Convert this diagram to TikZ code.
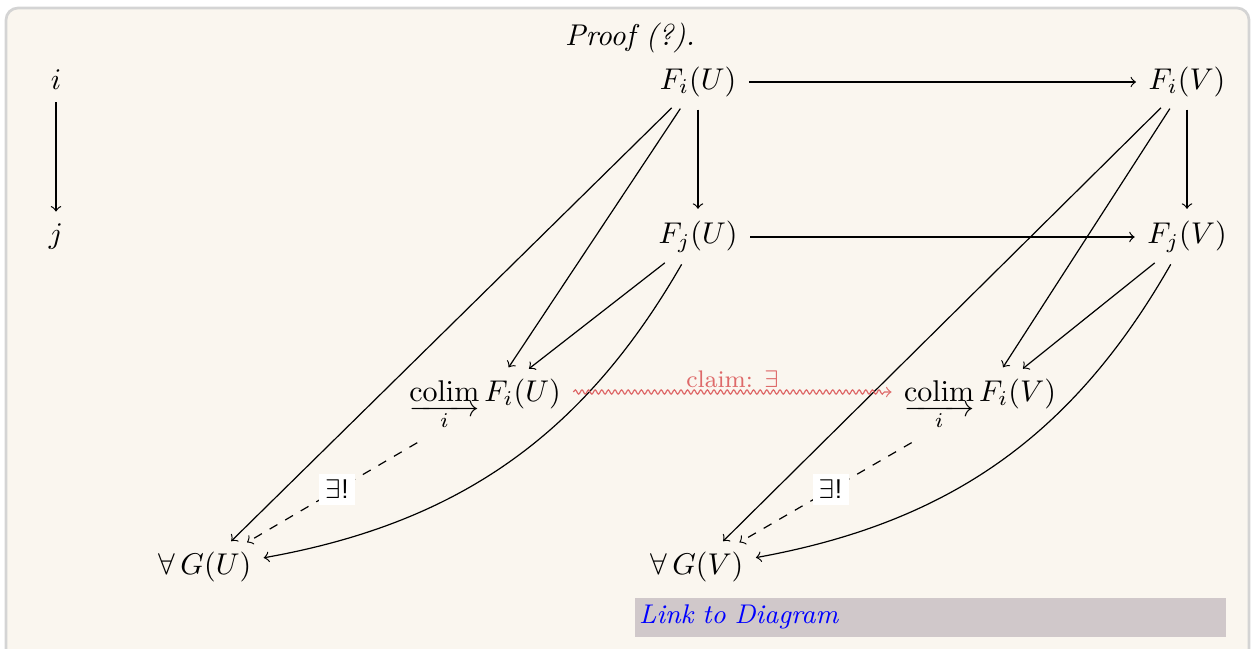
\documentclass[tikz,border=0pt]{standalone}
\usepackage{amsmath,amssymb}
\usepackage{tikz}
\usetikzlibrary{decorations.pathmorphing}
\definecolor{paper}{RGB}{250,246,239}
\definecolor{frame}{RGB}{212,212,212}
\definecolor{claimred}{RGB}{222,105,105}
\definecolor{linkbg}{RGB}{208,200,202}
\makeatletter
\newcommand{\colimi}{\mathop{\vtop{\m@th\ialign{##\cr
  \hfil$\mathrm{colim}$\hfil\cr
  \noalign{\nointerlineskip\kern1.2pt}
  \rightarrowfill\cr
  \noalign{\nointerlineskip\kern-1pt}
  \hfil$\scriptstyle i$\hfil\cr}}}}
\makeatother

\begin{document}
\begin{tikzpicture}[
  x=0.3333pt, y=-0.3333pt,
  ob/.style={inner sep=2pt},
  ar/.style={->,shorten <=2pt,shorten >=2pt},
  uniq/.style={->,dashed,shorten <=6pt,shorten >=2pt},
  lb/.style={fill=white,inner sep=2pt,font=\small},
  squig/.style={->,claimred,shorten <=2pt,shorten >=2pt,
                decorate,decoration={snake,amplitude=0.7pt,
                segment length=2.2pt,pre length=2pt,post length=4pt}}
]
\useasboundingbox (0,0) rectangle (1254,649);

% panel
\draw[frame,line width=0.9pt,fill=paper,rounded corners=4pt]
      (6,8) rectangle (1249,680);
\node (title) at (630,38) {\itshape Proof (?).};

% index category
\node[ob] (I) at (56,80)  {$i$};
\node[ob] (J) at (56,237) {$j$};

% top rows
\node[ob] (FiU) at (698,82)   {$F_i(U)$};
\node[ob] (FiV) at (1187,82)  {$F_i(V)$};
\node[ob] (FjU) at (698,237)  {$F_j(U)$};
\node[ob] (FjV) at (1187,237) {$F_j(V)$};

% colimits
\node[ob] (CU) at (485,403) {$\colimi F_i(U)$};
\node[ob] (CV) at (980,403) {$\colimi F_i(V)$};

% cocones
\node[ob] (GU) at (205,567) {$\forall\, G(U)$};
\node[ob] (GV) at (697,567) {$\forall\, G(V)$};

\draw[ar] (I) -- (J);

\draw[ar] (FiU) -- (FiV);
\draw[ar] (FjU) -- (FjV);
\draw[ar] (FiU) -- (FjU);
\draw[ar] (FiV) -- (FjV);

\draw[ar] (FiU) -- (CU);
\draw[ar] (FjU) -- (CU);
\draw[ar] (FiU) -- (GU);
\draw[ar] (FjU) to[bend left=25] (GU);

\draw[ar] (FiV) -- (CV);
\draw[ar] (FjV) -- (CV);
\draw[ar] (FiV) -- (GV);
\draw[ar] (FjV) to[bend left=25] (GV);

\draw[uniq] (CU) -- (GU) node[midway,lb]{$\exists$\textsf{!}};
\draw[uniq] (CV) -- (GV) node[midway,lb]{$\exists$\textsf{!}};

\draw[squig] (CU.east |- 0,392) -- (CV.west |- 0,392)
      node[midway,above=-2pt,claimred,font=\footnotesize]{claim: $\exists$};

% link
\node[fill=linkbg,minimum width=197pt,minimum height=13pt,inner sep=0pt,
      anchor=north west,text width=194pt,align=left,text=blue,font=\small]
      (link) at (634,597) {\itshape Link to Diagram};
\end{tikzpicture}
\end{document}
